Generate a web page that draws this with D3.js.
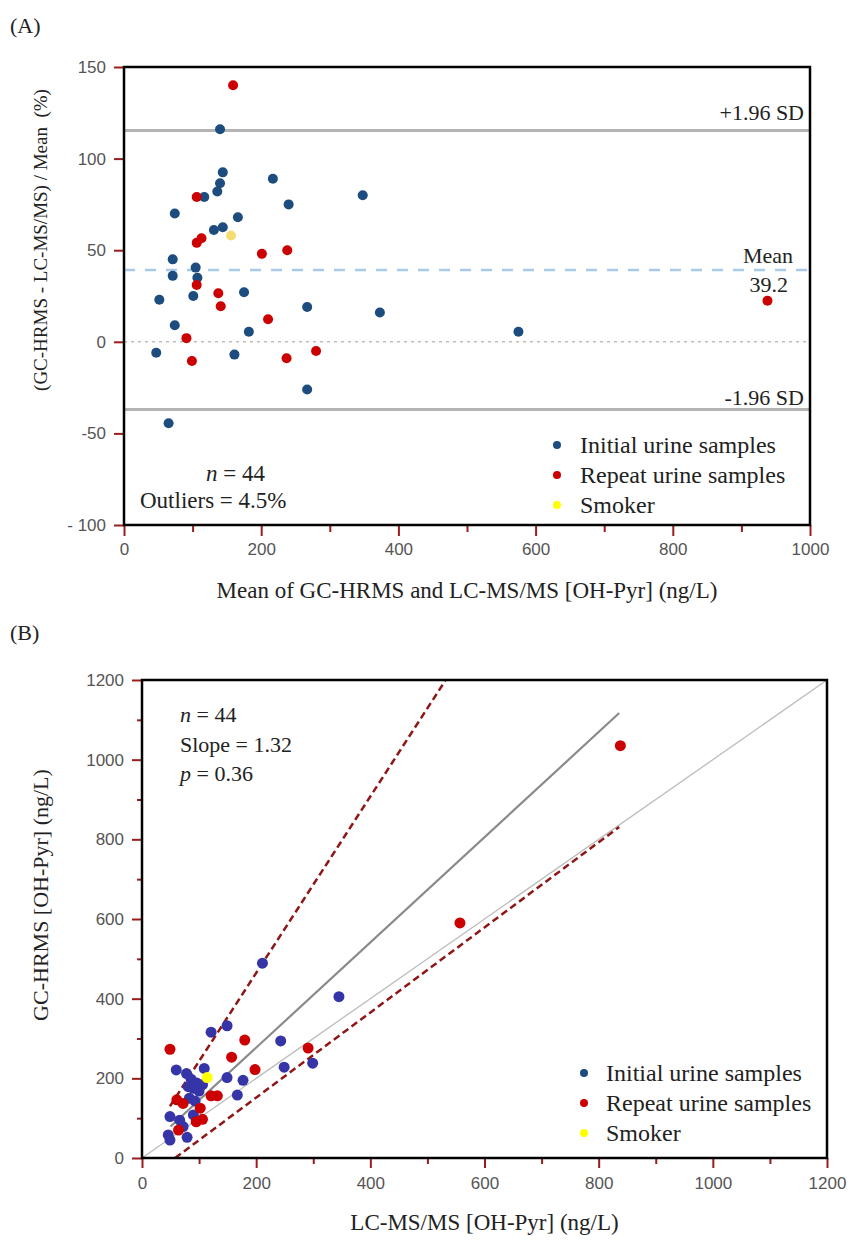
<!DOCTYPE html>
<html>
<head>
<meta charset="utf-8">
<script src="https://cdnjs.cloudflare.com/ajax/libs/d3/7.8.5/d3.min.js"></script>
<style>
  body { margin: 0; background: #fff; }
  .tick text { font-family: "Liberation Sans", Arial, sans-serif; fill: #555; }
  .serif { font-family: "Liberation Serif", "Times New Roman", serif; fill: #222; }
</style>
</head>
<body>
<script>
/*
*    Bland-Altman (A) and method comparison (B)
*/

// ---------- Data: panel A (mean ng/L, % difference) ----------
var aInitialX = [140, 144, 217, 140, 136, 117, 348, 240, 74, 166, 131, 144, 71, 104.5, 71, 107, 51.5, 101, 175, 267, 373, 74, 182, 47, 161, 267, 65, 575];
var aInitialY = [116, 92.5, 89, 86.5, 82, 79, 80, 75, 70, 68, 61, 62.5, 45, 40.5, 36, 35, 23, 25, 27, 19, 16, 9, 5.5, -6, -7, -26, -44.5, 5.5];
var aRepeatX = [159, 106, 106, 113, 201, 238, 106, 137.5, 141, 210, 91, 280, 99, 237, 938];
var aRepeatY = [140, 79, 54, 56.5, 48, 50, 31, 26.5, 19.4, 12.3, 2, -5, -10.5, -9, 22.4];
var aSmokerX = [156];
var aSmokerY = [58];

var meanDiff = 39.2;
var upperLoA = 115.4;
var lowerLoA = -37;

var aXTicks = [0, 200, 400, 600, 800, 1000];
var aXMinor = [100, 300, 500, 700, 900];
var aYTicks = [150, 100, 50, 0, -50, -100];

// ---------- Data: panel B (LC-MS/MS vs GC-HRMS, ng/L) ----------
var bInitialX = [211, 345, 121, 149, 243, 299, 60, 249, 109, 78, 149, 177, 96, 90, 81, 83, 167, 49, 90, 72, 46, 49, 79, 86, 100, 93, 106, 66];
var bInitialY = [489, 405, 316, 332, 294, 238, 221, 228, 225, 212, 202, 195, 188, 175, 179, 150, 158, 104, 108, 79, 58, 45, 52, 198, 168, 143, 184, 95];
var bRepeatX = [838, 557, 291, 49, 180, 157, 198, 61, 72, 102, 121, 132, 106, 95, 64];
var bRepeatY = [1035, 590, 276, 273, 296, 253, 222, 146, 137, 125, 156, 156, 97, 91, 70];
var bSmokerX = [114];
var bSmokerY = [202];

var lineIdentity = [[0, 0], [1200, 1200]];
var lineFit = [[50, 79], [836, 1117]];
var lineUpperCI = [[49, 130], [532, 1200]];
var lineLowerCI = [[58, 0], [836, 831]];

var bTicks = [0, 200, 400, 600, 800, 1000, 1200];
var bMinor = [100, 300, 500, 700, 900, 1100];

var legendLabels = ["Initial urine samples", "Repeat urine samples", "Smoker"];

var tickRed = "#9a1c1c";

function zip(xs, ys) {
    return xs.map((x, i) => ({x: x, y: ys[i]}));
}

//Canvas
var svg = d3.select("body")
.append("svg")
    .attr("width", 854)
    .attr("height", 1245);

svg.append("rect")
    .attr("width", 854)
    .attr("height", 1245)
    .attr("fill", "#fff");

function styleAxis(sel) {
    sel.select(".domain").remove();
    sel.selectAll(".tick line").attr("stroke", tickRed).attr("stroke-width", 2);
    sel.selectAll(".tick text").style("font-size", "17px");
}

// =================== Panel A ===================
var A = {left: 124, right: 810, top: 67, bottom: 525};

//Scales
var xA = d3.scaleLinear().domain([0, 1000]).range([A.left, A.right]);
var yA = d3.scaleLinear().domain([-100, 150]).range([A.bottom, A.top]);

//Reference lines
svg.append("line")
    .attr("x1", A.left).attr("x2", A.right)
    .attr("y1", yA(0)).attr("y2", yA(0))
    .attr("stroke", "#bdbdbd").attr("stroke-width", 1.5)
    .attr("stroke-dasharray", "3,4");

svg.append("line")
    .attr("x1", A.left).attr("x2", A.right)
    .attr("y1", yA(meanDiff)).attr("y2", yA(meanDiff))
    .attr("stroke", "#a8cbe9").attr("stroke-width", 2.5)
    .attr("stroke-dasharray", "11,10");

[upperLoA, lowerLoA].forEach(v => {
    svg.append("line")
        .attr("x1", A.left).attr("x2", A.right)
        .attr("y1", yA(v)).attr("y2", yA(v))
        .attr("stroke", "#b3b3b3").attr("stroke-width", 3);
});

//Axes
svg.append("g")
    .attr("transform", "translate(0, " + A.bottom + ")")
    .call(d3.axisBottom(xA).tickValues(aXMinor).tickSize(7).tickFormat(""))
    .call(styleAxis);

svg.append("g")
    .attr("transform", "translate(0, " + A.bottom + ")")
    .call(d3.axisBottom(xA).tickValues(aXTicks).tickSize(11).tickPadding(7)
        .tickFormat(d3.format("d")))
    .call(styleAxis);

svg.append("g")
    .attr("transform", "translate(" + A.left + ", 0)")
    .call(d3.axisLeft(yA).tickValues(aYTicks).tickSize(10).tickPadding(8)
        .tickFormat(d => d === -100 ? "- 100" : d))
    .call(styleAxis);

//Points
svg.append("g").selectAll("circle")
    .data(zip(aInitialX, aInitialY))
    .enter().append("circle")
        .attr("cx", d => xA(d.x)).attr("cy", d => yA(d.y))
        .attr("r", 5).attr("fill", "#1d4c7e");

svg.append("g").selectAll("circle")
    .data(zip(aRepeatX, aRepeatY))
    .enter().append("circle")
        .attr("cx", d => xA(d.x)).attr("cy", d => yA(d.y))
        .attr("r", 5).attr("fill", "#cc0000");

svg.append("g").selectAll("circle")
    .data(zip(aSmokerX, aSmokerY))
    .enter().append("circle")
        .attr("cx", d => xA(d.x)).attr("cy", d => yA(d.y))
        .attr("r", 5).attr("fill", "#f6dd72");

//Frame
svg.append("rect")
    .attr("x", A.left).attr("y", A.top)
    .attr("width", A.right - A.left).attr("height", A.bottom - A.top)
    .attr("fill", "none").attr("stroke", "#000").attr("stroke-width", 2.5);

//Labels
svg.append("text").attr("class", "serif")
    .attr("x", 10).attr("y", 33)
    .style("font-size", "22px")
    .text("(A)");

svg.append("text").attr("class", "serif")
    .attr("x", A.right - 6).attr("y", yA(upperLoA) - 10)
    .attr("text-anchor", "end").style("font-size", "22px")
    .text("+1.96 SD");

svg.append("text").attr("class", "serif")
    .attr("x", A.right - 6).attr("y", yA(lowerLoA) - 5)
    .attr("text-anchor", "end").style("font-size", "22px")
    .text("-1.96 SD");

svg.append("text").attr("class", "serif")
    .attr("x", A.right - 17).attr("y", yA(meanDiff) - 7)
    .attr("text-anchor", "end").style("font-size", "22px")
    .text("Mean");

svg.append("text").attr("class", "serif")
    .attr("x", A.right - 22).attr("y", yA(meanDiff) + 22)
    .attr("text-anchor", "end").style("font-size", "22px")
    .text(meanDiff.toFixed(1));

var nA = svg.append("text").attr("class", "serif")
    .attr("x", 206).attr("y", 481)
    .style("font-size", "23px");
nA.append("tspan").style("font-style", "italic").text("n");
nA.append("tspan").text(" = 44");

svg.append("text").attr("class", "serif")
    .attr("x", 140).attr("y", 508)
    .style("font-size", "23px")
    .text("Outliers = 4.5%");

svg.append("text").attr("class", "serif")
    .attr("x", (A.left + A.right) / 2).attr("y", 598)
    .attr("text-anchor", "middle").style("font-size", "23px")
    .text("Mean of GC-HRMS and LC-MS/MS [OH-Pyr] (ng/L)");

svg.append("text").attr("class", "serif")
    .attr("transform", "rotate(-90)")
    .attr("x", -240).attr("y", 47)
    .attr("text-anchor", "middle")
    .style("font-size", "19px").style("white-space", "pre")
    .text("(GC-HRMS - LC-MS/MS) / Mean  (%)");

//Legend A
var legendA = ["#1d4c7e", "#cc0000", "#ffff00"];
legendLabels.forEach((lab, i) => {
    svg.append("circle")
        .attr("cx", 557).attr("cy", 445 + i * 30)
        .attr("r", 4).attr("fill", legendA[i]);
    svg.append("text").attr("class", "serif")
        .attr("x", 580).attr("y", 453 + i * 30)
        .style("font-size", "24px")
        .text(lab);
});

// =================== Panel B ===================
var B = {left: 142, right: 827, top: 680, bottom: 1158};

//Scales
var xB = d3.scaleLinear().domain([0, 1200]).range([B.left, B.right]);
var yB = d3.scaleLinear().domain([0, 1200]).range([B.bottom, B.top]);

var line = d3.line().x(d => xB(d[0])).y(d => yB(d[1]));

//Lines
svg.append("path").attr("d", line(lineIdentity))
    .attr("fill", "none").attr("stroke", "#bcbcbc").attr("stroke-width", 1.3);

svg.append("path").attr("d", line(lineFit))
    .attr("fill", "none").attr("stroke", "#8a8a8a").attr("stroke-width", 2.2);

[lineUpperCI, lineLowerCI].forEach(l => {
    svg.append("path").attr("d", line(l))
        .attr("fill", "none").attr("stroke", "#8e1616").attr("stroke-width", 2.5)
        .attr("stroke-dasharray", "7,4");
});

//Axes
svg.append("g")
    .attr("transform", "translate(0, " + B.bottom + ")")
    .call(d3.axisBottom(xB).tickValues(bMinor).tickSize(6).tickFormat(""))
    .call(styleAxis);

svg.append("g")
    .attr("transform", "translate(0, " + B.bottom + ")")
    .call(d3.axisBottom(xB).tickValues(bTicks).tickSize(10).tickPadding(9)
        .tickFormat(d3.format("d")))
    .call(styleAxis);

svg.append("g")
    .attr("transform", "translate(" + B.left + ", 0)")
    .call(d3.axisLeft(yB).tickValues(bMinor).tickSize(5).tickFormat(""))
    .call(styleAxis);

svg.append("g")
    .attr("transform", "translate(" + B.left + ", 0)")
    .call(d3.axisLeft(yB).tickValues(bTicks).tickSize(10).tickPadding(8)
        .tickFormat(d3.format("d")))
    .call(styleAxis);

//Points
svg.append("g").selectAll("circle")
    .data(zip(bInitialX, bInitialY))
    .enter().append("circle")
        .attr("cx", d => xB(d.x)).attr("cy", d => yB(d.y))
        .attr("r", 5.5).attr("fill", "#3535a8");

svg.append("g").selectAll("circle")
    .data(zip(bRepeatX, bRepeatY))
    .enter().append("circle")
        .attr("cx", d => xB(d.x)).attr("cy", d => yB(d.y))
        .attr("r", 5.5).attr("fill", "#cc0000");

svg.append("g").selectAll("circle")
    .data(zip(bSmokerX, bSmokerY))
    .enter().append("circle")
        .attr("cx", d => xB(d.x)).attr("cy", d => yB(d.y))
        .attr("r", 5.5).attr("fill", "#ffff00");

//Frame
svg.append("rect")
    .attr("x", B.left).attr("y", B.top)
    .attr("width", B.right - B.left).attr("height", B.bottom - B.top)
    .attr("fill", "none").attr("stroke", "#000").attr("stroke-width", 2.5);

//Labels
svg.append("text").attr("class", "serif")
    .attr("x", 10).attr("y", 640)
    .style("font-size", "22px")
    .text("(B)");

var statsB = [["n", " = 44"], ["", "Slope = 1.32"], ["p", " = 0.36"]];
statsB.forEach((s, i) => {
    var t = svg.append("text").attr("class", "serif")
        .attr("x", 180).attr("y", 722 + i * 29.5)
        .style("font-size", "22px");
    if (s[0]) t.append("tspan").style("font-style", "italic").text(s[0]);
    t.append("tspan").text(s[1]);
});

svg.append("text").attr("class", "serif")
    .attr("x", (B.left + B.right) / 2).attr("y", 1230)
    .attr("text-anchor", "middle").style("font-size", "23px")
    .text("LC-MS/MS [OH-Pyr] (ng/L)");

svg.append("text").attr("class", "serif")
    .attr("transform", "rotate(-90)")
    .attr("x", -895).attr("y", 48)
    .attr("text-anchor", "middle").style("font-size", "22px")
    .text("GC-HRMS [OH-Pyr] (ng/L)");

//Legend B
var legendB = ["#1d4c7e", "#cc0000", "#ffff00"];
legendLabels.forEach((lab, i) => {
    svg.append("circle")
        .attr("cx", 584).attr("cy", 1073 + i * 30)
        .attr("r", 4).attr("fill", legendB[i]);
    svg.append("text").attr("class", "serif")
        .attr("x", 606).attr("y", 1081 + i * 30)
        .style("font-size", "24px")
        .text(lab);
});
</script>
</body>
</html>
